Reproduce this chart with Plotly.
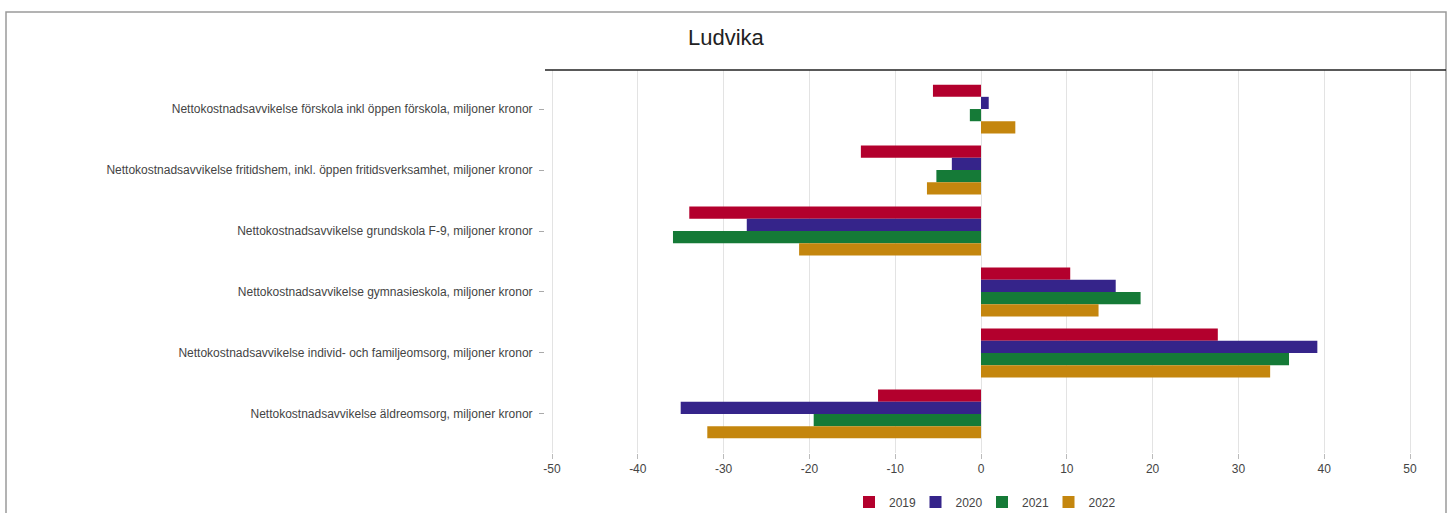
import plotly.graph_objects as go

categories = [
    "Nettokostnadsavvikelse förskola inkl öppen förskola, miljoner kronor",
    "Nettokostnadsavvikelse fritidshem, inkl. öppen fritidsverksamhet, miljoner kronor",
    "Nettokostnadsavvikelse grundskola F-9, miljoner kronor",
    "Nettokostnadsavvikelse gymnasieskola, miljoner kronor",
    "Nettokostnadsavvikelse individ- och familjeomsorg, miljoner kronor",
    "Nettokostnadsavvikelse äldreomsorg, miljoner kronor",
]
years = ["2019", "2020", "2021", "2022"]
values_2019 = [-5.6, -14.0, -34.0, 10.4, 27.6, -12.0]
values_2020 = [0.9, -3.4, -27.3, 15.7, 39.2, -35.0]
values_2021 = [-1.3, -5.2, -35.9, 18.6, 35.9, -19.5]
values_2022 = [4.0, -6.3, -21.2, 13.7, 33.7, -31.9]
series = [values_2019, values_2020, values_2021, values_2022]
colors = ["#b3002d", "#35248a", "#157a37", "#c4860e"]
x_ticks = [-50, -40, -30, -20, -10, 0, 10, 20, 30, 40, 50]

FONT = "Liberation Sans, Arial, sans-serif"

fig = go.Figure()
for name, vals, col in zip(years, series, colors):
    fig.add_trace(go.Bar(
        y=categories, x=vals, name=name, orientation="h",
        marker=dict(color=col, line=dict(width=0)),
    ))

W, H = 1456, 513
L, R, T, B = 545, 10, 70, 60
pw = W - L - R
ph = H - T - B

def px_x(p):
    return (p - L) / pw

def px_y(p):
    return (H - B - p) / ph

fig.update_layout(
    width=W, height=H,
    margin=dict(l=L, r=R, t=T, b=B, autoexpand=False),
    paper_bgcolor="white", plot_bgcolor="white",
    font=dict(family=FONT, size=12, color="#444"),
    barmode="group", bargap=0.2, bargroupgap=0,
    title=dict(text="Ludvika", x=688 / W, xanchor="left", xref="container",
               y=1 - 37 / H, yanchor="middle", yref="container",
               font=dict(family=FONT, size=22, color="#222")),
    legend=dict(orientation="h", x=px_x(982), xanchor="center",
                y=px_y(502), yanchor="middle", traceorder="normal",
                entrywidth=21.5,
                font=dict(family=FONT, size=12, color="#444")),
    showlegend=True,
)
fig.update_xaxes(
    range=[-50 - 7 / 8.58, 50 + 36 / 8.58],
    tickvals=x_ticks, ticktext=[str(v) for v in x_ticks],
    showgrid=True, gridcolor="#e3e3e3", gridwidth=1,
    zeroline=False, showline=False,
    ticks="outside", ticklen=5, tickcolor="#bbb",
    tickfont=dict(family=FONT, size=12, color="#444"),
)
fig.update_yaxes(
    type="category", categoryorder="array", categoryarray=categories,
    range=[5.64, -0.64],
    showgrid=False, zeroline=False, showline=False,
    ticks="outside", ticklen=5, tickcolor="#aaa",
    ticklabelstandoff=4,
    tickfont=dict(family=FONT, size=12, color="#444"),
)
# outer border
fig.add_shape(type="rect", xref="paper", yref="paper",
              x0=px_x(6), x1=px_x(1446), y0=px_y(540), y1=px_y(12),
              line=dict(color="#9a9a9a", width=1.5), fillcolor="rgba(0,0,0,0)",
              layer="above")
# top axis line
fig.add_shape(type="line", xref="paper", yref="paper",
              x0=0, x1=1, y0=1, y1=1,
              line=dict(color="#222", width=1.5), layer="above")

fig.write_html("out.html",
               config={"displayModeBar": False},
               post_script="document.body.style.margin='0';document.body.style.overflow='hidden';")
